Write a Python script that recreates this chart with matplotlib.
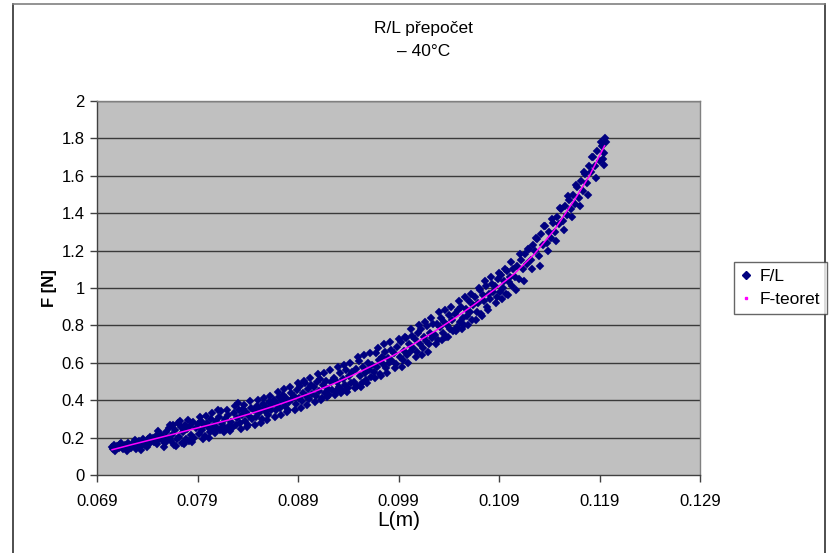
import matplotlib
matplotlib.use("Agg")
import matplotlib.pyplot as plt
from matplotlib.lines import Line2D

plt.rcParams['font.family'] = ['Liberation Sans', 'DejaVu Sans']

# theoretical curve
L_teor = [0.0705, 0.0725, 0.0745, 0.0765, 0.0785, 0.0805, 0.0825, 0.0845, 0.0865,
          0.0885, 0.0905, 0.0925, 0.0945, 0.0965, 0.0985, 0.1005, 0.1025, 0.1045,
          0.1065, 0.1085, 0.1105, 0.1125, 0.1145, 0.1165, 0.1180, 0.1195]
F_teor = [0.135, 0.163, 0.190, 0.217, 0.245, 0.272, 0.300, 0.332, 0.366,
          0.403, 0.443, 0.487, 0.535, 0.587, 0.640, 0.700, 0.765, 0.835,
          0.910, 0.990, 1.075, 1.180, 1.310, 1.470, 1.600, 1.760]

# measured points
L_meas = [
    0.0705, 0.0706, 0.0707, 0.0709, 0.0710, 0.0712, 0.0713, 0.0715, 0.0716, 0.0718, 0.0719, 0.0721, 0.0722, 0.0724,
    0.0726, 0.0727, 0.0729, 0.0730, 0.0732, 0.0733, 0.0735, 0.0736, 0.0738, 0.0739, 0.0741, 0.0742, 0.0744,
    0.0746, 0.0747, 0.0749, 0.0750, 0.0752, 0.0753, 0.0755, 0.0756, 0.0758, 0.0759, 0.0761, 0.0762, 0.0764, 0.0765,
    0.0766, 0.0767, 0.0768, 0.0770, 0.0771, 0.0772, 0.0774, 0.0775, 0.0776, 0.0778, 0.0779, 0.0780, 0.0782, 0.0783, 0.0784,
    0.0786, 0.0787, 0.0789, 0.0790, 0.0791, 0.0793, 0.0794, 0.0796, 0.0797, 0.0799, 0.0800, 0.0802, 0.0803, 0.0805,
    0.0806, 0.0808, 0.0809, 0.0811, 0.0812, 0.0814, 0.0815, 0.0817, 0.0818, 0.0820, 0.0821, 0.0823, 0.0824,
    0.0826, 0.0828, 0.0829, 0.0831, 0.0832, 0.0834, 0.0835, 0.0837, 0.0838, 0.0840, 0.0841, 0.0843, 0.0844,
    0.0846, 0.0848, 0.0849, 0.0851, 0.0852, 0.0854, 0.0855, 0.0857, 0.0858, 0.0860, 0.0861, 0.0863, 0.0864,
    0.0810, 0.0830,
    0.0866, 0.0868, 0.0869, 0.0871, 0.0872, 0.0874, 0.0875, 0.0877, 0.0878, 0.0880, 0.0881, 0.0883, 0.0884,
    0.0886, 0.0888, 0.0889, 0.0891, 0.0892, 0.0894, 0.0895, 0.0897, 0.0898, 0.0900, 0.0901, 0.0903, 0.0904,
    0.0906, 0.0908, 0.0909, 0.0911, 0.0912, 0.0914, 0.0915, 0.0917, 0.0918, 0.0920, 0.0921, 0.0923, 0.0924,
    0.0926, 0.0928, 0.0929, 0.0931, 0.0932, 0.0934, 0.0935, 0.0937, 0.0938, 0.0940, 0.0941, 0.0943, 0.0944,
    0.0946, 0.0948, 0.0949, 0.0951, 0.0952, 0.0954, 0.0955, 0.0957, 0.0958, 0.0960, 0.0961, 0.0963, 0.0964,
    0.0966, 0.0968, 0.0969, 0.0971, 0.0972, 0.0974, 0.0975, 0.0977, 0.0978, 0.0980, 0.0981, 0.0983, 0.0984,
    0.0986, 0.0988, 0.0989, 0.0991, 0.0992, 0.0994, 0.0995, 0.0997, 0.0998, 0.1000, 0.1001, 0.1003, 0.1004,
    0.1006, 0.1008, 0.1009, 0.1011, 0.1012, 0.1014, 0.1015, 0.1017, 0.1018, 0.1020, 0.1021, 0.1023, 0.1024,
    0.1026, 0.1028, 0.1029, 0.1031, 0.1032, 0.1034, 0.1035, 0.1037, 0.1038, 0.1040, 0.1041, 0.1043, 0.1044,
    0.1046, 0.1048, 0.1049, 0.1051, 0.1052, 0.1054, 0.1055, 0.1057, 0.1058, 0.1060, 0.1061, 0.1063, 0.1064,
    0.1066, 0.1068, 0.1069, 0.1071, 0.1072, 0.1074, 0.1075, 0.1077, 0.1078, 0.1080, 0.1081, 0.1083, 0.1084,
    0.1086, 0.1088, 0.1089, 0.1091, 0.1092, 0.1094, 0.1095, 0.1097, 0.1098, 0.1100, 0.1101, 0.1103, 0.1104,
    0.1106, 0.1108, 0.1110, 0.1112, 0.1114, 0.1116, 0.1118, 0.1120, 0.1122, 0.1124,
    0.1126, 0.1128, 0.1130, 0.1132, 0.1134, 0.1136, 0.1138, 0.1140, 0.1142, 0.1144,
    0.1146, 0.1148, 0.1150, 0.1152, 0.1154, 0.1156, 0.1158, 0.1160, 0.1162, 0.1164,
    0.1166, 0.1168, 0.1170, 0.1172, 0.1174, 0.1176, 0.1178, 0.1180,
    0.1182, 0.1184, 0.1186, 0.1188, 0.1190, 0.1192, 0.1194, 0.1195, 0.1196, 0.1193,
    # wider scatter
    0.0708, 0.0714, 0.0720, 0.0728, 0.0734, 0.0740, 0.0743,
    0.0751, 0.0757, 0.0763, 0.0769, 0.0773, 0.0777, 0.0781, 0.0785, 0.0792, 0.0795, 0.0798, 0.0801,
    0.0804, 0.0807, 0.0813, 0.0816, 0.0819, 0.0822, 0.0827, 0.0833, 0.0836, 0.0839, 0.0842, 0.0847,
    0.0850, 0.0853, 0.0856, 0.0859, 0.0862, 0.0867, 0.0870, 0.0873, 0.0876, 0.0879, 0.0882, 0.0887, 0.0890, 0.0893,
    0.0896, 0.0899, 0.0902, 0.0907, 0.0910, 0.0913, 0.0916, 0.0919, 0.0922, 0.0927, 0.0930, 0.0933, 0.0936, 0.0939, 0.0942, 0.0947,
    0.0950, 0.0953, 0.0956, 0.0959, 0.0962, 0.0967, 0.0970, 0.0973, 0.0976, 0.0979, 0.0982, 0.0987, 0.0990, 0.0993, 0.0996, 0.0999,
    0.1002, 0.1007, 0.1010, 0.1013, 0.1016, 0.1019, 0.1022, 0.1027, 0.1030, 0.1033, 0.1036, 0.1039, 0.1042, 0.1047,
    0.1050, 0.1053, 0.1056, 0.1059, 0.1062, 0.1067, 0.1070, 0.1073, 0.1076, 0.1079, 0.1082, 0.1087, 0.1090, 0.1093, 0.1096, 0.1099,
    0.1102, 0.1107, 0.1111, 0.1115, 0.1119, 0.1123, 0.1127, 0.1131, 0.1135, 0.1139, 0.1143, 0.1147,
    0.1151, 0.1155, 0.1159, 0.1163, 0.1167, 0.1171, 0.1175, 0.1179, 0.1183, 0.1187, 0.1191, 0.1194,
]
F_meas = [
    0.150, 0.138, 0.160, 0.145, 0.155, 0.142, 0.165, 0.150, 0.138, 0.160, 0.148, 0.170, 0.155, 0.145,
    0.158, 0.175, 0.140, 0.165, 0.182, 0.150, 0.172, 0.190, 0.160, 0.178, 0.195, 0.168, 0.185,
    0.200, 0.178, 0.210, 0.165, 0.195, 0.220, 0.185, 0.205, 0.170, 0.230, 0.195, 0.250, 0.180, 0.215,
    0.265, 0.160, 0.240, 0.190, 0.280, 0.205, 0.255, 0.170, 0.230, 0.270, 0.195, 0.245, 0.180, 0.260, 0.215,
    0.285, 0.200, 0.250, 0.275, 0.220, 0.290, 0.240, 0.265, 0.210, 0.280, 0.255, 0.230, 0.300, 0.260,
    0.245, 0.290, 0.250, 0.310, 0.240, 0.275, 0.255, 0.300, 0.245, 0.320, 0.260, 0.285, 0.250,
    0.330, 0.265, 0.305, 0.345, 0.280, 0.320, 0.355, 0.290, 0.335, 0.270, 0.315, 0.360, 0.300,
    0.345, 0.310, 0.370, 0.330, 0.355, 0.300, 0.380, 0.340, 0.365, 0.320, 0.390, 0.350, 0.375,
    0.350, 0.385,
    0.400, 0.345, 0.380, 0.415, 0.360, 0.395, 0.430, 0.370, 0.410, 0.350, 0.390, 0.440, 0.405,
    0.420, 0.380, 0.455, 0.410, 0.475, 0.395, 0.440, 0.490, 0.425, 0.460, 0.405, 0.480, 0.435,
    0.470, 0.420, 0.500, 0.450, 0.515, 0.410, 0.480, 0.440, 0.505, 0.460, 0.430, 0.495, 0.455,
    0.520, 0.450, 0.500, 0.470, 0.545, 0.455, 0.515, 0.480, 0.560, 0.465, 0.530, 0.490, 0.550,
    0.500, 0.565, 0.475, 0.610, 0.530, 0.490, 0.580, 0.545, 0.510, 0.600, 0.560, 0.525, 0.590,
    0.550, 0.650, 0.575, 0.615, 0.540, 0.630, 0.595, 0.660, 0.570, 0.625, 0.600, 0.670, 0.610,
    0.650, 0.595, 0.685, 0.630, 0.710, 0.615, 0.665, 0.735, 0.640, 0.700, 0.660, 0.745, 0.680,
    0.725, 0.660, 0.760, 0.700, 0.780, 0.680, 0.740, 0.715, 0.795, 0.700, 0.760, 0.730, 0.810,
    0.750, 0.810, 0.720, 0.790, 0.840, 0.760, 0.820, 0.740, 0.800, 0.855, 0.780, 0.830, 0.770,
    0.860, 0.790, 0.880, 0.820, 0.900, 0.840, 0.800, 0.890, 0.850, 0.930, 0.870, 0.830, 0.910,
    0.950, 0.870, 0.920, 0.990, 0.860, 0.960, 0.930, 1.010, 0.900, 0.970, 0.940, 1.020, 0.980,
    1.010, 0.950, 1.050, 0.980, 1.070, 1.000, 1.040, 0.970, 1.090, 1.030, 1.060, 1.010, 1.100,
    1.060, 1.120, 1.050, 1.150, 1.100, 1.180, 1.130, 1.210, 1.150, 1.230,
    1.200, 1.260, 1.170, 1.290, 1.230, 1.330, 1.240, 1.300, 1.270, 1.350,
    1.300, 1.380, 1.340, 1.420, 1.360, 1.440, 1.390, 1.470, 1.420, 1.500,
    1.450, 1.540, 1.480, 1.570, 1.520, 1.610, 1.560, 1.650,
    1.620, 1.700, 1.650, 1.730, 1.680, 1.760, 1.720, 1.800, 1.780, 1.690,
    # wider scatter
    0.128, 0.170, 0.130, 0.185, 0.135, 0.150, 0.205,
    0.235, 0.150, 0.270, 0.155, 0.290, 0.165, 0.295, 0.175, 0.310, 0.190, 0.315, 0.200,
    0.330, 0.225, 0.340, 0.230, 0.345, 0.235, 0.370, 0.245, 0.375, 0.255, 0.395, 0.270,
    0.400, 0.280, 0.410, 0.295, 0.420, 0.310, 0.445, 0.320, 0.460, 0.335, 0.470, 0.350, 0.490, 0.360,
    0.505, 0.375, 0.520, 0.390, 0.540, 0.400, 0.545, 0.415, 0.560, 0.430, 0.580, 0.440, 0.590, 0.445, 0.600, 0.465,
    0.630, 0.470, 0.640, 0.490, 0.655, 0.520, 0.680, 0.530, 0.700, 0.545, 0.710, 0.570, 0.725, 0.580, 0.740, 0.600,
    0.780, 0.630, 0.800, 0.640, 0.820, 0.660, 0.840, 0.700, 0.870, 0.720, 0.880, 0.740, 0.900, 0.770,
    0.930, 0.780, 0.950, 0.800, 0.970, 0.830, 1.000, 0.850, 1.040, 0.880, 1.060, 0.920, 1.080, 0.940, 1.100, 0.960,
    1.140, 0.990, 1.180, 1.040, 1.210, 1.100, 1.270, 1.120, 1.330, 1.200, 1.370, 1.250,
    1.430, 1.310, 1.490, 1.380, 1.550, 1.440, 1.620, 1.500, 1.700, 1.590, 1.780, 1.660,
]

x_ticks = [0.069, 0.079, 0.089, 0.099, 0.109, 0.119, 0.129]
x_ticklabels = ['0.069', '0.079', '0.089', '0.099', '0.109', '0.119', '0.129']
y_ticks = [0, 0.2, 0.4, 0.6, 0.8, 1, 1.2, 1.4, 1.6, 1.8, 2]
y_ticklabels = ['0', '0.2', '0.4', '0.6', '0.8', '1', '1.2', '1.4', '1.6', '1.8', '2']

W, H = 830, 553
fig = plt.figure(figsize=(W / 100, H / 100), dpi=100)
fig.patch.set_facecolor('white')

left, right, top, bottom = 97, 700, 101, 475
ax = fig.add_axes([left / W, 1 - bottom / H, (right - left) / W, (bottom - top) / H])
ax.set_facecolor('#C0C0C0')

for yv in y_ticks[1:]:
    ax.axhline(yv, color='#3a3a3a', lw=1.0, zorder=1)

ax.plot(L_meas, F_meas, linestyle='none', marker='D', markersize=4.4,
        markerfacecolor='#000080', markeredgecolor='#000080', markeredgewidth=0.3, zorder=3)
ax.plot(L_teor, F_teor, color='#FF00FF', lw=1.1, zorder=4)

ax.set_xlim(0.069, 0.129)
ax.set_ylim(0, 2)
ax.set_xticks(x_ticks)
ax.set_xticklabels(x_ticklabels)
ax.set_yticks(y_ticks)
ax.set_yticklabels(y_ticklabels)
ax.tick_params(axis='both', direction='out', length=5, width=1, color='#404040',
               labelsize=12, pad=4)
ax.tick_params(axis='x', pad=9)
for s in ['left', 'bottom']:
    ax.spines[s].set_color('#404040')
    ax.spines[s].set_linewidth(1.0)
for s in ['right', 'top']:
    ax.spines[s].set_color('#808080')
    ax.spines[s].set_linewidth(1.0)

ax.set_xlabel('L(m)', fontsize=15, labelpad=1)
ax.set_ylabel('F [N]', fontsize=12, fontweight='bold', labelpad=3)

fig.text(423 / W, 1 - 29 / H, 'R/L přepočet', ha='center', va='center', fontsize=12.5)
fig.text(424 / W, 1 - 52 / H, '– 40°C', ha='center', va='center', fontsize=12.5)

handles = [
    Line2D([], [], linestyle='none', marker='D', markersize=4, color='#000080'),
    Line2D([], [], linestyle='none', marker='s', markersize=2, color='#FF00FF'),
]
leg = fig.legend(handles, ['F/L', 'F-teoret'], loc='upper left',
                 bbox_to_anchor=(734 / W, 1 - 262 / H), bbox_transform=fig.transFigure,
                 fontsize=12.5, frameon=True, fancybox=False, borderaxespad=0,
                 handlelength=0.6, handletextpad=0.5, borderpad=0.4, labelspacing=0.45)
leg.get_frame().set_edgecolor('#404040')
leg.get_frame().set_linewidth(1.0)

# chart area frame
fr = dict(color='#303030', lw=1.2, transform=fig.transFigure)
fig.add_artist(Line2D([13 / W, 13 / W], [0, 1 - 4 / H], **fr))
fig.add_artist(Line2D([825 / W, 825 / W], [0, 1 - 4 / H], **fr))
fig.add_artist(Line2D([13 / W, 825 / W], [1 - 4 / H, 1 - 4 / H], color='#808080', lw=1.2,
                      transform=fig.transFigure))

fig.savefig('out.png', dpi=100)
